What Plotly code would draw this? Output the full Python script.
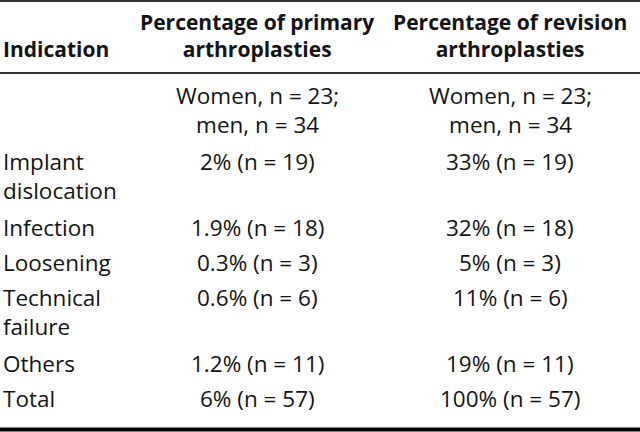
import plotly.graph_objects as go

# ---- data ----
col_headers = [["", "Indication"],
               ["Percentage of primary", "arthroplasties"],
               ["Percentage of revision", "arthroplasties"]]
indications = [["Implant", "dislocation"], ["Infection"], ["Loosening"],
               ["Technical", "failure"], ["Others"], ["Total"]]
primary_pct = ["2", "1.9", "0.3", "0.6", "1.2", "6"]
revision_pct = ["33", "32", "5", "11", "19", "100"]
counts = [19, 18, 3, 6, 11, 57]
n_women = 23
n_men = 34

# ---- build table cells (each cell = list of text lines) ----
sex_cell = [f"Women, n = {n_women};", f"men, n = {n_men}"]
rows = [[[""], sex_cell, sex_cell]]
for lab, p, r, n in zip(indications, primary_pct, revision_pct, counts):
    rows.append([lab, [f"{p}% (n = {n})"], [f"{r}% (n = {n})"]])

# ---- layout constants (pixels) ----
W, H = 640, 432
FONT = "Open Sans"
BODY_SIZE = 22.5
HEAD_SIZE = 21
TXT = "#141414"
COL_X = [2, 257, 510]
COL_ANCHOR = ["left", "center", "center"]
ROW_SINGLE = 35         # height of a one-line row
ROW_EXTRA = 31          # added height per extra line
FIRST_BASE = 31         # first baseline below row top
HEAD_BASE = 30
HEADER_RULE = 73
MID_SHIFT = 0.388       # baseline -> vertical middle of a text line (em)
LINE_H = 1.3            # plotly line height (em)

annotations = []

def add_cell(x, anchor, first_baseline, lines, size, bold=False):
    lines = [l for l in lines]
    if not any(lines):
        return
    n = len(lines)
    if bold:
        lines = [f"<b>{l}</b>" if l else " " for l in lines]
    mid = first_baseline - MID_SHIFT * size + (n - 1) * LINE_H * size / 2
    annotations.append(dict(
        x=x, y=mid, xref="x", yref="y",
        text="<br>".join(lines),
        showarrow=False, xanchor=anchor, yanchor="middle", borderpad=0,
        align=anchor,
        font=dict(family=FONT, size=size, color=TXT),
    ))

# header
for c, lines in enumerate(col_headers):
    if lines[0] == "":
        # single line sitting on the second header line
        add_cell(COL_X[c], COL_ANCHOR[c], HEAD_BASE + LINE_H * HEAD_SIZE, lines[1:], HEAD_SIZE, bold=True)
    else:
        add_cell(COL_X[c], COL_ANCHOR[c], HEAD_BASE, lines, HEAD_SIZE, bold=True)

# body
top = HEADER_RULE
for row in rows:
    nlines = max(len(cell) for cell in row)
    for c, cell in enumerate(row):
        add_cell(COL_X[c], COL_ANCHOR[c], top + FIRST_BASE, cell, BODY_SIZE)
    top += ROW_SINGLE + ROW_EXTRA * (nlines - 1)

fig = go.Figure()

def hrule(y, width, color):
    fig.add_shape(type="line", xref="x", yref="y", x0=0, x1=W, y0=y, y1=y,
                  line=dict(color=color, width=width))

hrule(1, 2, "#333333")
hrule(HEADER_RULE, 2, "#333333")
hrule(429.5, 4, "#000000")

fig.update_layout(
    width=W, height=H,
    margin=dict(l=0, r=0, t=0, b=0),
    paper_bgcolor="white",
    plot_bgcolor="white",
    showlegend=False,
    annotations=annotations,
    xaxis=dict(range=[0, W], visible=False, fixedrange=True),
    yaxis=dict(range=[H, 0], visible=False, fixedrange=True),
)

fig.write_html(
    "out.html",
    config={"displayModeBar": False},
    post_script="document.body.style.margin='0px';",
)
